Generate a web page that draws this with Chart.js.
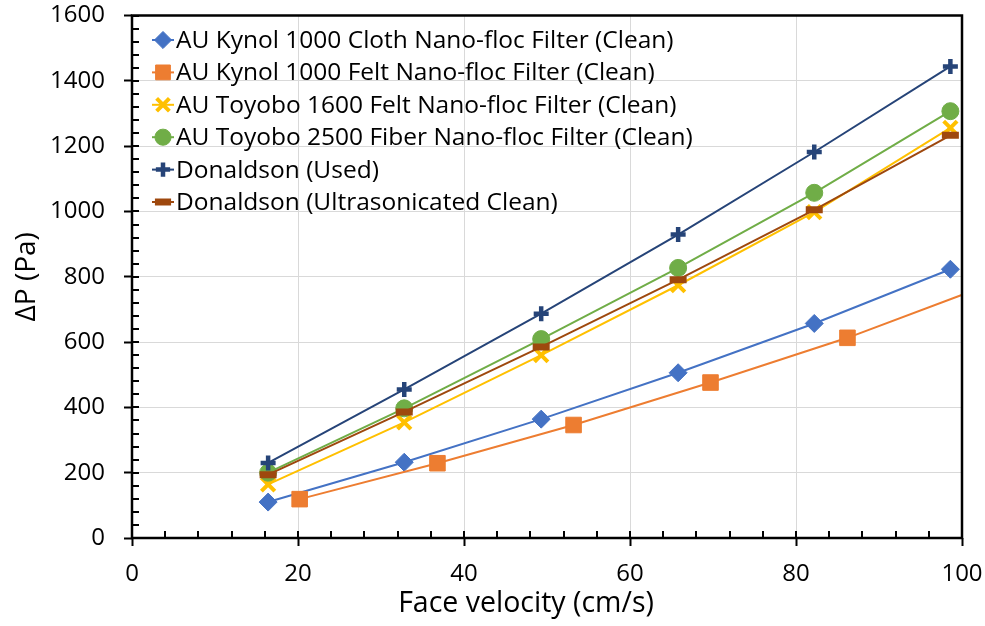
<!DOCTYPE html>
<html>
<head>
<meta charset="utf-8">
<script src="https://cdn.jsdelivr.net/npm/chart.js@4.4.1/dist/chart.umd.min.js"></script>
<style>
  html, body { margin: 0; padding: 0; background: #fff; }
</style>
</head>
<body>
<canvas id="myChart" width="985" height="626"></canvas>
<script>
// face velocity (cm/s) at each test point
const velocity = [16.4, 32.8, 49.3, 65.8, 82.2, 98.6];
const velocityFelt = [20.2, 36.8, 53.2, 69.7, 86.2, 102.7];

// pressure drop (Pa)
const kynolCloth = [110, 232, 364, 506, 657, 823];
const kynolFelt = [119, 229, 346, 476, 613, 770];
const toyobo1600 = [164, 354, 560, 774, 998, 1256];
const toyobo2500 = [200, 397, 609, 827, 1057, 1307];
const donaldsonUsed = [230, 455, 687, 929, 1182, 1444];
const donaldsonClean = [194, 386, 585, 791, 1005, 1233];

const seriesNames = [
  'AU Kynol 1000 Cloth Nano-floc Filter (Clean)',
  'AU Kynol 1000 Felt Nano-floc Filter (Clean)',
  'AU Toyobo 1600 Felt Nano-floc Filter (Clean)',
  'AU Toyobo 2500 Fiber Nano-floc Filter (Clean)',
  'Donaldson (Used)',
  'Donaldson (Ultrasonicated Clean)'
];

const xTicks = { min: 0, max: 100, step: 20 };
const yTicks = { min: 0, max: 1600, step: 200 };

const FONT = '"Open Sans", Lato, sans-serif';

function pts(xs, ys) {
  return ys.map((v, i) => ({ x: xs[i], y: v }));
}

const styles = [
  { color: '#4472C4', pointStyle: 'rectRot', radius: 9, pw: 1 },
  { color: '#ED7D31', pointStyle: 'rect', radius: 11, pw: 1 },
  { color: '#FFC000', pointStyle: 'crossRot', radius: 9.5, pw: 4 },
  { color: '#70AD47', pointStyle: 'circle', radius: 8.5, pw: 1 },
  { color: '#264478', pointStyle: 'cross', radius: 7.5, pw: 4.5 },
  { color: '#9E480E', pointStyle: 'line', radius: 8.5, pw: 7 }
];

const seriesData = [
  pts(velocity, kynolCloth),
  pts(velocityFelt, kynolFelt),
  pts(velocity, toyobo1600),
  pts(velocity, toyobo2500),
  pts(velocity, donaldsonUsed),
  pts(velocity, donaldsonClean)
];

const datasets = seriesData.map((d, i) => ({
  label: seriesNames[i],
  data: d,
  order: seriesData.length - i, // later series sit on top
  borderColor: styles[i].color,
  backgroundColor: styles[i].color,
  borderWidth: 2,
  pointStyle: styles[i].pointStyle,
  pointRadius: styles[i].radius,
  pointBorderWidth: styles[i].pw,
  pointBackgroundColor: styles[i].color,
  pointBorderColor: styles[i].color,
  tension: 0
}));

// box, inner tick marks, legend and x title
const frame = {
  id: 'frame',
  afterDraw(chart) {
    const { ctx, chartArea: a, scales: { x, y } } = chart;
    ctx.save();
    ctx.strokeStyle = '#000';
    ctx.lineWidth = 2;
    ctx.beginPath();
    for (let v = xTicks.min; v <= xTicks.max; v += 4) {
      const px = Math.round(x.getPixelForValue(v));
      ctx.moveTo(px, a.bottom);
      ctx.lineTo(px, a.bottom - 7);
    }
    for (let v = yTicks.min; v <= yTicks.max; v += 40) {
      const py = Math.round(y.getPixelForValue(v));
      ctx.moveTo(a.left, py);
      ctx.lineTo(a.left + 7, py);
    }
    ctx.stroke();

    ctx.lineWidth = 2.5;
    ctx.strokeRect(a.left, a.top, a.right - a.left, a.bottom - a.top);

    // legend
    const drawPoint = Chart.helpers && Chart.helpers.drawPoint;
    ctx.font = '24.5px ' + FONT;
    ctx.textBaseline = 'middle';
    ctx.textAlign = 'left';
    seriesNames.forEach((name, i) => {
      const cy = 40 + i * 32.4;
      const s = styles[i];
      ctx.strokeStyle = s.color;
      ctx.fillStyle = s.color;
      ctx.lineWidth = 2;
      ctx.beginPath();
      ctx.moveTo(152, cy);
      ctx.lineTo(174, cy);
      ctx.stroke();
      if (drawPoint) {
        ctx.lineWidth = s.pw;
        drawPoint(ctx, { pointStyle: s.pointStyle, radius: s.radius * 0.95, rotation: 0, borderWidth: s.pw }, 163, cy);
      }
      ctx.fillStyle = '#000';
      ctx.fillText(name, 176, cy + 1);
    });

    ctx.font = '28.5px ' + FONT;
    ctx.textAlign = 'center';
    ctx.textBaseline = 'alphabetic';
    ctx.fillText('Face velocity (cm/s)', 526, 612);
    ctx.restore();
  }
};

new Chart(document.getElementById('myChart'), {
  type: 'line',
  data: { datasets: datasets },
  options: {
    responsive: false,
    animation: false,
    events: [],
    layout: { padding: { left: 0, right: 23, top: 15, bottom: 0 } },
    plugins: { legend: { display: false }, tooltip: { enabled: false } },
    scales: {
      x: {
        type: 'linear',
        min: xTicks.min,
        max: xTicks.max,
        ticks: { stepSize: xTicks.step, padding: 14, color: '#000', font: { family: FONT, size: 24 }, callback: v => String(v) },
        grid: { color: '#D9D9D9', lineWidth: 1, tickColor: '#000', tickLength: 8, tickWidth: 2 },
        border: { display: false },
        afterFit(scale) {
          scale.height = 88;
          scale.paddingLeft = 0;
          scale.paddingRight = 0;
        }
      },
      y: {
        type: 'linear',
        min: yTicks.min,
        max: yTicks.max,
        ticks: { stepSize: yTicks.step, padding: 19, color: '#000', font: { family: FONT, size: 24 }, callback: v => String(v) },
        grid: { color: '#D9D9D9', lineWidth: 1, tickColor: '#000', tickLength: 8, tickWidth: 2 },
        border: { display: false },
        title: { display: true, text: 'ΔP (Pa)', color: '#000', font: { family: FONT, size: 28 }, padding: { top: 10, bottom: 0 } },
        afterFit(scale) {
          scale.width = 132;
          scale.paddingTop = 0;
          scale.paddingBottom = 0;
        }
      }
    }
  },
  plugins: [frame]
});
</script>
</body>
</html>
